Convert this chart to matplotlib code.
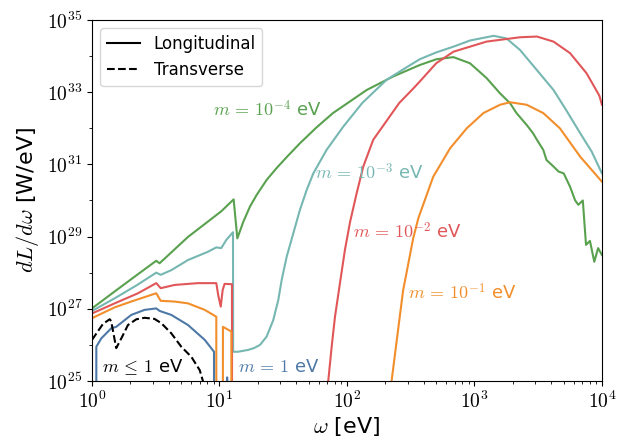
import numpy as np
import matplotlib
matplotlib.use("Agg")
import matplotlib.pyplot as plt
from matplotlib.lines import Line2D
from matplotlib.ticker import FixedLocator, FuncFormatter, LogLocator, NullFormatter

plt.rcParams['mathtext.fontset'] = 'cm'
plt.rcParams['font.family'] = ['DejaVu Sans']

# ---- data (log10 omega [eV], log10 dL/domega [W/eV]) ----
green_lx = [0, 0.178, 0.35, 0.504, 0.53, 0.753, 1.014, 1.111, 1.14, 1.187, 1.239, 1.291, 1.37, 1.449, 1.527,
            1.63, 1.76, 1.89, 2.155, 2.36, 2.57, 2.70, 2.835, 2.965, 3.095, 3.2, 3.28, 3.33, 3.41, 3.46, 3.49,
            3.54, 3.565, 3.62, 3.66, 3.70, 3.75, 3.79, 3.815, 3.85, 3.875, 3.906, 3.94, 3.97, 4.0]
green_ly = [27.01, 27.48, 27.93, 28.33, 28.26, 28.99, 29.7, 30.03, 28.95, 29.41, 29.83, 30.15, 30.57, 30.9, 31.2,
            31.58, 32.02, 32.42, 33.06, 33.43, 33.75, 33.91, 33.97, 33.8, 33.39, 32.97, 32.69, 32.42, 32.09, 31.86, 31.68,
            31.4, 31.12, 30.94, 30.8, 30.75, 30.38, 30.0, 29.88, 30.0, 28.77, 28.88, 28.30, 28.68, 28.49]

teal_lx = [0, 0.178, 0.35, 0.504, 0.539, 0.622, 0.753, 0.91, 0.975, 1.014, 1.054, 1.106, 1.107, 1.145, 1.224,
           1.27, 1.318, 1.37, 1.422, 1.461, 1.488, 1.527, 1.579, 1.631, 1.684, 1.736, 1.84, 1.97, 2.12, 2.31,
           2.45, 2.57, 2.70, 2.835, 2.965, 3.15, 3.25, 3.357, 3.49, 3.62, 3.72, 3.83, 3.92, 4.0]
teal_ly = [26.94, 27.29, 27.65, 28.0, 27.94, 28.07, 28.35, 28.58, 28.70, 28.68, 28.91, 29.12, 25.81, 25.81, 25.86,
           25.91, 26.0, 26.23, 26.69, 27.24, 27.80, 28.44, 29.09, 29.74, 30.29, 30.75, 31.40, 32.04, 32.7, 33.34,
           33.65, 33.91, 34.1, 34.26, 34.43, 34.56, 34.49, 34.17, 33.61, 33.06, 32.5, 31.86, 31.35, 30.75]

red_lx = [0, 0.178, 0.361, 0.504, 0.539, 0.648, 0.831, 0.975, 0.99, 1.01, 1.025, 1.04, 1.098, 1.099, np.nan,
          1.83, 1.854, 1.88, 1.906, 1.945, 1.984, 2.024, 2.076, 2.128, 2.206, 2.31, 2.41, 2.52, 2.57, 2.70,
          2.835, 3.095, 3.357, 3.49, 3.62, 3.75, 3.88, 3.98, 4.0]
red_ly = [26.87, 27.15, 27.43, 27.71, 27.57, 27.66, 27.71, 27.71, 27.38, 27.06, 27.52, 27.69, 27.68, 20, np.nan,
          24.3, 25.03, 25.95, 26.78, 27.71, 28.63, 29.4, 30.2, 30.94, 31.68, 32.2, 32.7, 33.1, 33.29, 33.8,
          34.12, 34.40, 34.52, 34.54, 34.40, 34.08, 33.52, 32.9, 32.65]

orange_lx = [0, 0.178, 0.308, 0.504, 0.539, 0.648, 0.753, 0.884, 0.975, 0.976, np.nan,
             1.026, 1.027, 1.093, 1.094, np.nan,
             2.32, 2.35, 2.44, 2.52, 2.56, 2.625, 2.677, 2.81, 2.94, 3.07, 3.20, 3.28, 3.41, 3.54, 3.67, 3.83, 4.0]
orange_ly = [26.74, 27.04, 27.2, 27.43, 27.22, 27.2, 27.15, 26.97, 26.78, 20, np.nan,
             20, 26.5, 26.37, 20, np.nan,
             24.2, 25.0, 27.5, 28.96, 29.51, 30.15, 30.66, 31.45, 32.0, 32.42, 32.65, 32.72, 32.65, 32.42, 32.0, 31.21, 30.52]

blue_lx = [0.033, 0.034, 0.073, 0.151, 0.19, 0.308, 0.413, 0.504, 0.531, 0.622, 0.753, 0.884, 0.957, 0.958, np.nan,
           1.058, 1.06, 1.062]
blue_ly = [20, 25.95, 26.18, 26.46, 26.50, 26.83, 26.97, 27.01, 26.94, 26.83, 26.55, 26.14, 25.81, 20, np.nan,
           20, 25.1, 20]

trans_lx = [0.0, 0.086, 0.139, 0.15, 0.19, 0.23, 0.282, 0.348, 0.413, 0.49, 0.544, 0.622, 0.70, 0.779, 0.845, 0.87, 0.88]
trans_ly = [26.14, 26.58, 26.71, 26.66, 25.91, 26.18, 26.55, 26.71, 26.75, 26.72, 26.6, 26.32, 25.95, 25.67, 25.3, 25.0, 24.5]

labels = [r'$m\,=\,10^{-4}$ eV', r'$m\,=\,10^{-3}$ eV', r'$m\,=\,10^{-2}$ eV', r'$m\,=\,10^{-1}$ eV',
          r'$m\,=\,1$ eV', r'$m\,\leq\,1$ eV']
label_lx = [0.95, 1.75, 2.05, 2.48, 1.145, 0.08]
label_ly = [32.5, 30.76, 29.13, 27.44, 25.39, 25.39]

colors = ['#59a14f', '#76b7b2', '#e15759', '#f28e2b', '#4e79a7', 'black']

fig = plt.figure(figsize=(6.28, 4.43), dpi=100)
ax = fig.add_axes([0.1465, 0.140, 0.812, 0.815])

series = [(green_lx, green_ly), (teal_lx, teal_ly), (red_lx, red_ly), (orange_lx, orange_ly), (blue_lx, blue_ly)]
for (lx, ly), c in zip(series, colors[:5]):
    ax.plot(10 ** np.array(lx, float), 10 ** np.array(ly, float), color=c, lw=1.5)
ax.plot(10 ** np.array(trans_lx), 10 ** np.array(trans_ly), color='black', lw=1.5, ls='--')

for t, lx, ly, c in zip(labels, label_lx, label_ly, colors):
    ax.text(10 ** lx, 10 ** ly, t, color=c, fontsize=13, ha='left', va='center')

ax.set_xscale('log')
ax.set_yscale('log')
ax.set_xlim(1, 1e4)
ax.set_ylim(1e25, 1e35)

fmt = FuncFormatter(lambda v, p: r'$10^{%d}$' % int(round(np.log10(v))))
ax.xaxis.set_major_locator(FixedLocator([1, 10, 100, 1e3, 1e4]))
ax.xaxis.set_major_formatter(fmt)
ax.xaxis.set_minor_locator(LogLocator(base=10, subs=np.arange(2, 10), numticks=20))
ax.xaxis.set_minor_formatter(NullFormatter())
ax.yaxis.set_major_locator(FixedLocator([1e25, 1e27, 1e29, 1e31, 1e33, 1e35]))
ax.yaxis.set_major_formatter(fmt)
ax.yaxis.set_minor_locator(FixedLocator([1e26, 1e28, 1e30, 1e32, 1e34]))
ax.yaxis.set_minor_formatter(NullFormatter())
ax.tick_params(labelsize=14)

ax.set_xlabel(r'$\omega$ [eV]', fontsize=16, labelpad=2)
ax.set_ylabel(r'$dL/d\omega$ [W/eV]', fontsize=16, labelpad=4)

handles = [Line2D([], [], color='black', lw=1.5, ls='-'), Line2D([], [], color='black', lw=1.5, ls='--')]
ax.legend(handles, ['Longitudinal', 'Transverse'], loc='upper left', fontsize=12)

fig.savefig('out.png', dpi=100)
